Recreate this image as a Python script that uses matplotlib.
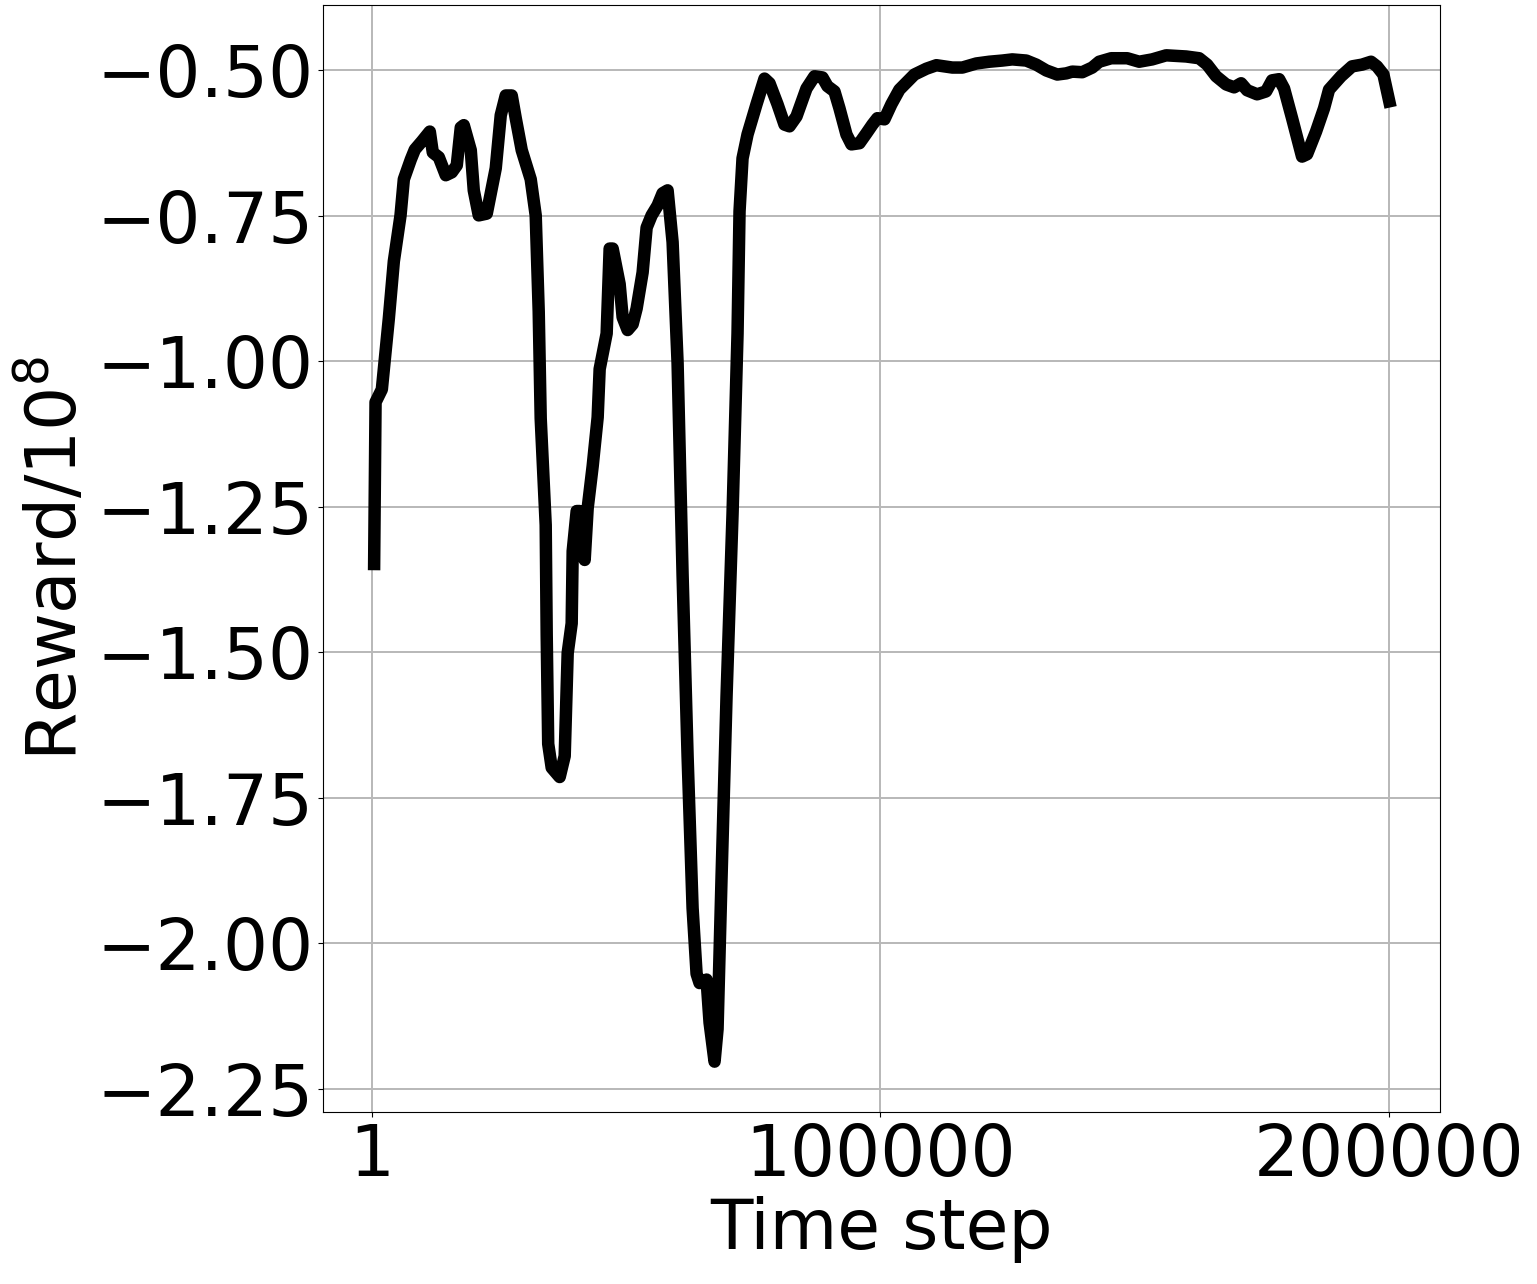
import numpy as np
import matplotlib.pyplot as plt

# time steps and reward (in units of 1e8)
steps = [450, 727, 1965, 3340, 4322, 5638, 6287, 7662, 8448, 9823,
         11395, 11984, 13163, 14538, 15717, 16699, 17485, 18074, 19450, 20039,
         21021, 22593, 24361, 25343, 26326, 27504, 28290, 29469, 31237, 32219,
         32809, 33201, 34184, 34380, 34675, 35363, 36934, 37917, 38506, 39292,
         39488, 40274, 40864, 41846, 42435, 43417, 44400, 44793, 46168, 46757,
         47347, 48722, 49311, 50294, 51276, 52062, 53241, 54027, 55009, 56188,
         57170, 58153, 59135, 60117, 61099, 62081, 63064, 63850, 64439, 65814,
         66404, 67386, 67975, 68761, 69743, 70922, 71904, 72297, 72886, 73868,
         75637, 77208, 78190, 79762, 81138, 82120, 83495, 85460, 87032, 88603,
         89586, 90961, 91943, 93319, 94301, 95873, 97248, 98427, 99409, 100784,
         102159, 103731, 105303, 106678, 109035, 111000, 114143, 116108, 118858, 121412,
         123966, 125931, 128681, 130646, 132610, 134771, 136540, 137718, 139683, 141647,
         143022, 145380, 148523, 150880, 153434, 156185, 160114, 162668, 164240, 166008,
         167972, 169544, 170919, 172098, 174063, 175831, 177010, 178385, 179367, 180939,
         182904, 183886, 185654, 187226, 188208, 190566, 192727, 194691, 196460, 197638,
         198900, 200050]
reward = [-1.348, -1.070, -1.048, -0.926, -0.828, -0.749, -0.687, -0.653, -0.636, -0.622,
          -0.605, -0.641, -0.649, -0.680, -0.675, -0.663, -0.598, -0.594, -0.637, -0.706,
          -0.749, -0.746, -0.668, -0.577, -0.543, -0.543, -0.582, -0.637, -0.687, -0.749,
          -0.914, -1.098, -1.281, -1.470, -1.657, -1.698, -1.714, -1.678, -1.501, -1.450,
          -1.326, -1.257, -1.257, -1.341, -1.252, -1.180, -1.096, -1.013, -0.952, -0.806,
          -0.806, -0.867, -0.924, -0.946, -0.936, -0.909, -0.847, -0.770, -0.749, -0.732,
          -0.711, -0.706, -0.795, -1.003, -1.367, -1.678, -1.939, -2.052, -2.068, -2.062,
          -2.136, -2.203, -2.147, -1.886, -1.575, -1.262, -0.952, -0.742, -0.651, -0.610,
          -0.558, -0.514, -0.522, -0.558, -0.593, -0.596, -0.579, -0.531, -0.510, -0.512,
          -0.527, -0.536, -0.565, -0.610, -0.627, -0.625, -0.608, -0.593, -0.582, -0.584,
          -0.558, -0.533, -0.519, -0.507, -0.497, -0.491, -0.495, -0.495, -0.488, -0.485,
          -0.483, -0.481, -0.483, -0.490, -0.500, -0.507, -0.505, -0.502, -0.503, -0.495,
          -0.485, -0.479, -0.479, -0.485, -0.481, -0.474, -0.476, -0.479, -0.490, -0.510,
          -0.524, -0.529, -0.522, -0.534, -0.541, -0.536, -0.517, -0.515, -0.531, -0.582,
          -0.648, -0.644, -0.605, -0.565, -0.533, -0.510, -0.493, -0.490, -0.485, -0.493,
          -0.507, -0.553]

xticks = [1, 100000, 200000]
yticks = [-2.25, -2.00, -1.75, -1.50, -1.25, -1.00, -0.75, -0.50]

fig = plt.figure(figsize=(15.37, 12.84), dpi=100)
ax = fig.add_axes([0.2104, 0.134, 0.7265, 0.8621])

ax.plot(steps, reward, color='black', linewidth=9)

ax.set_xticks(xticks)
ax.set_xticklabels([str(t) for t in xticks])
ax.set_yticks(yticks)
ax.tick_params(labelsize=51)
ax.grid(True, color='#b8b8b8', linewidth=1.4)
ax.set_axisbelow(True)

ax.set_xlabel('Time step', fontsize=50)
ax.set_ylabel(r'Reward/$10^8$', fontsize=50)

fig.savefig('out.png', dpi=100)
